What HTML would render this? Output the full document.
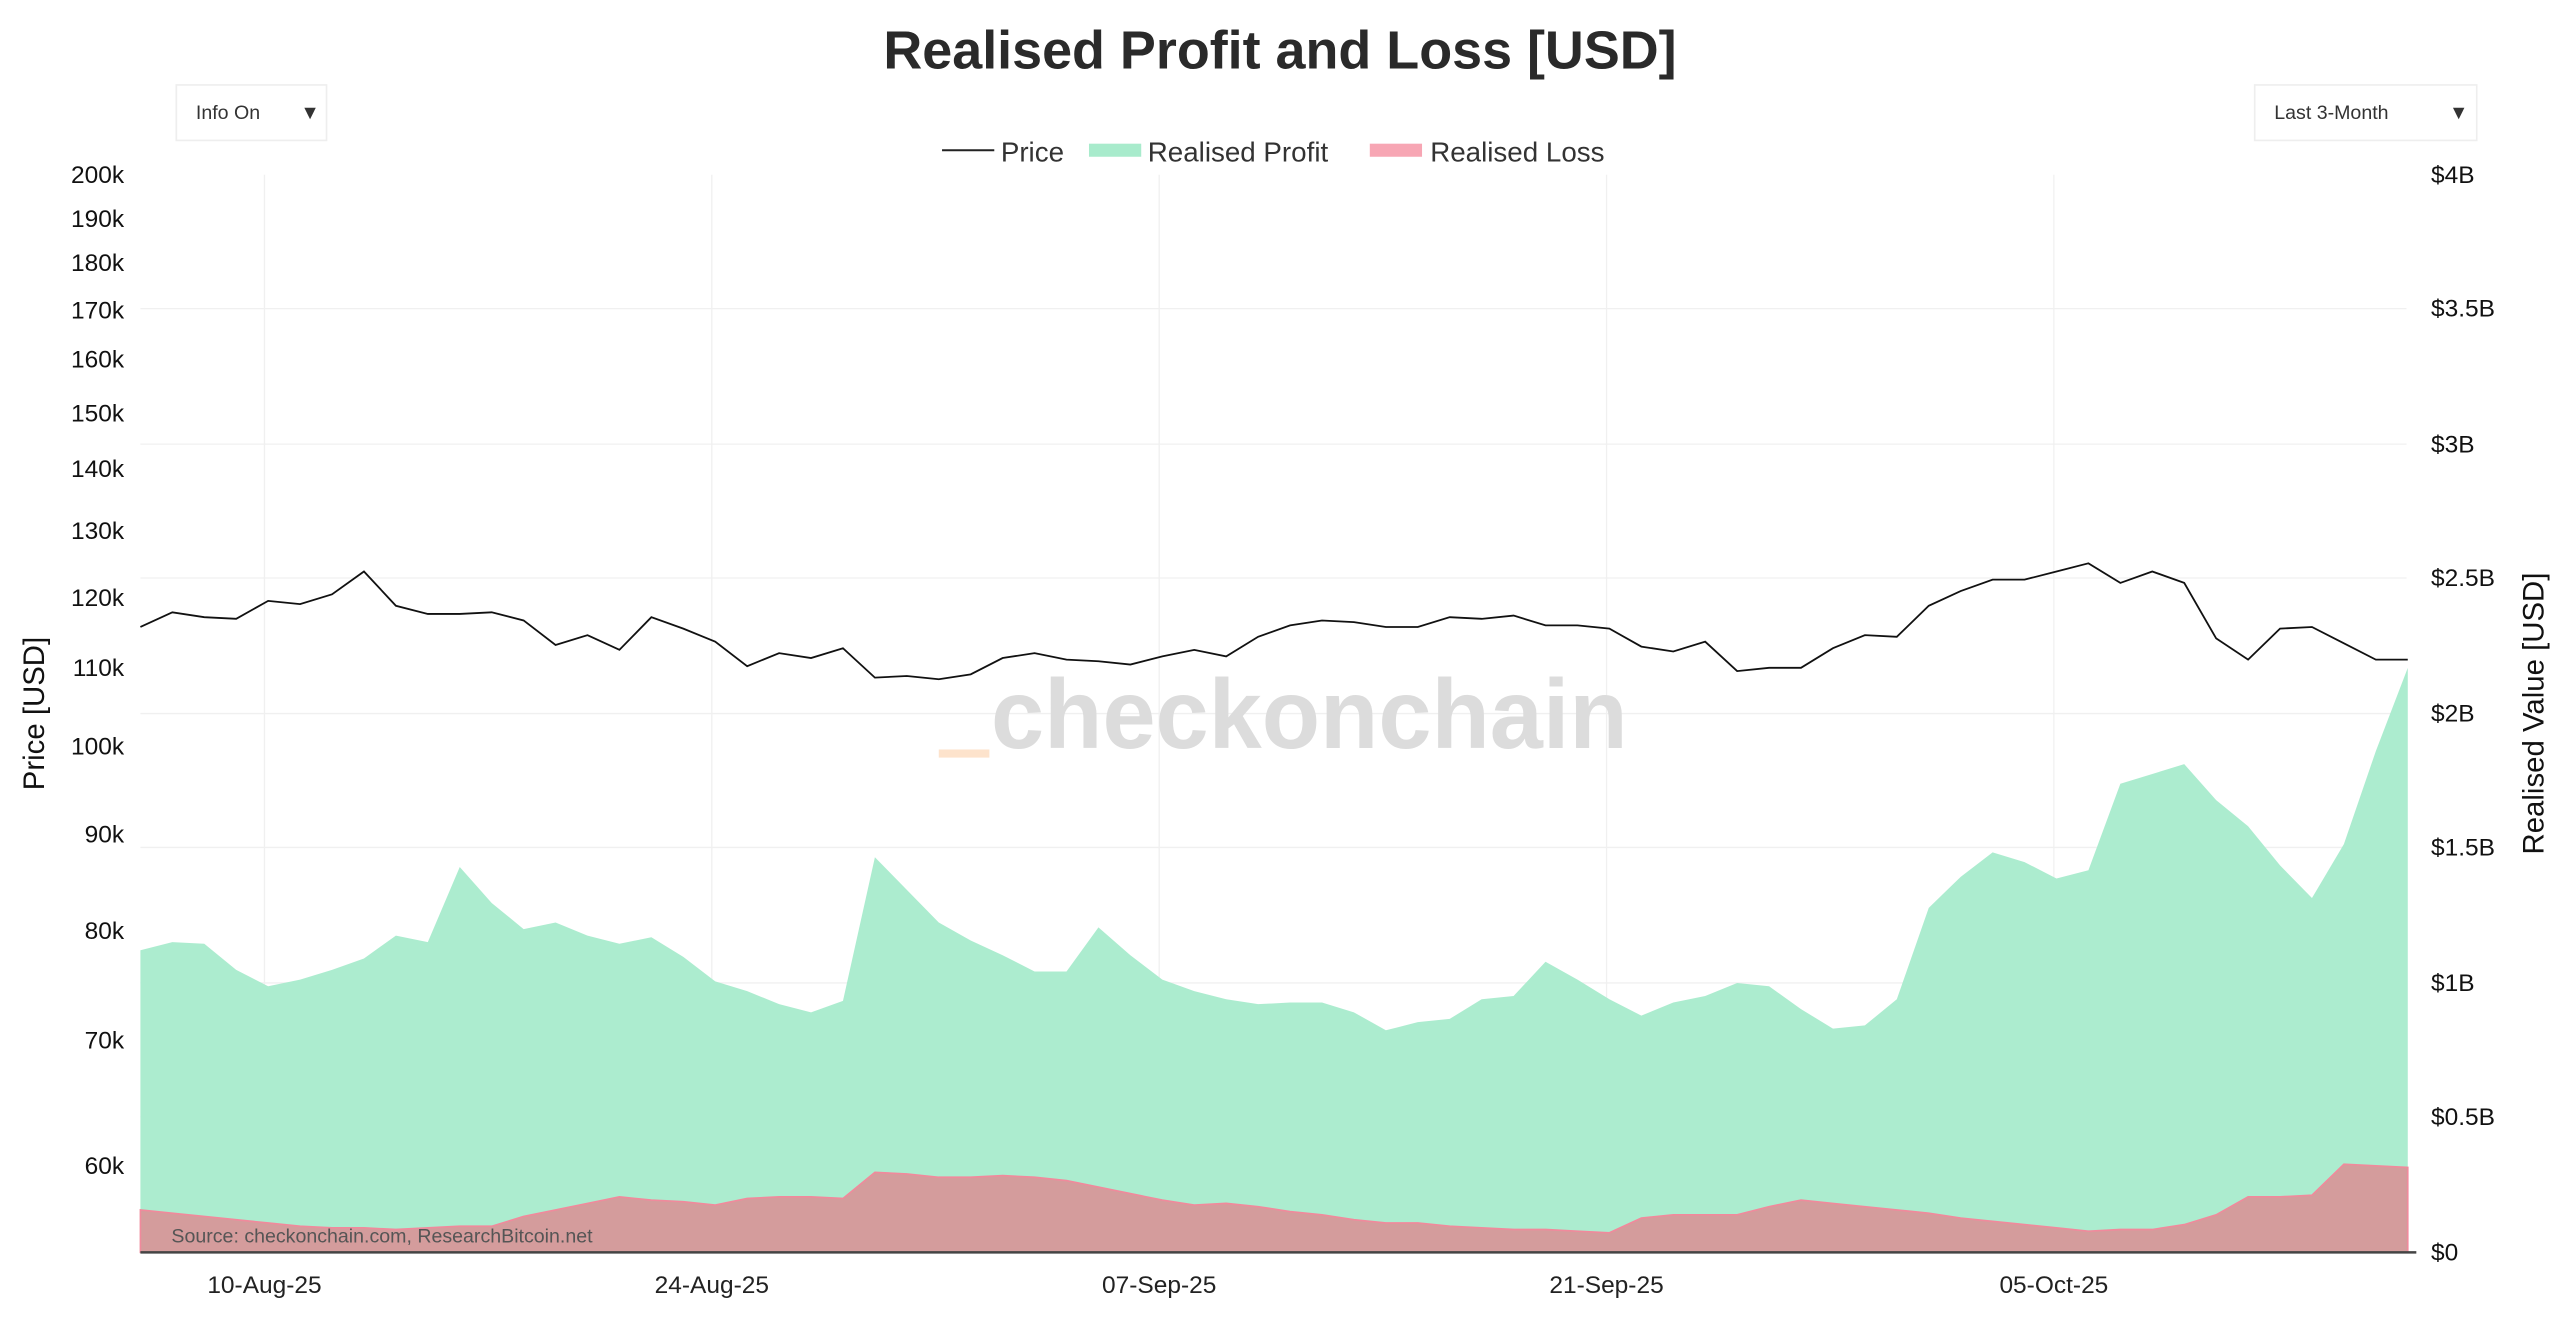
<!DOCTYPE html>
<html><head><meta charset="utf-8"><style>
html,body{margin:0;padding:0;background:#fff;}
svg{display:block;font-family:"Liberation Sans",sans-serif;}
</style></head><body>
<svg width="2560" height="1334" viewBox="0 0 1568 817" preserveAspectRatio="none">
<rect width="1568" height="817" fill="#fff"/>
<g stroke="#f0f0f0" stroke-width="0.8">
<line x1="86" x2="1474" y1="189" y2="189"/><line x1="86" x2="1474" y1="272" y2="272"/><line x1="86" x2="1474" y1="354" y2="354"/><line x1="86" x2="1474" y1="437" y2="437"/><line x1="86" x2="1474" y1="519" y2="519"/><line x1="86" x2="1474" y1="602" y2="602"/><line x1="86" x2="1474" y1="684" y2="684"/>
<line x1="162" x2="162" y1="107" y2="767"/><line x1="436" x2="436" y1="107" y2="767"/><line x1="710" x2="710" y1="107" y2="767"/><line x1="984" x2="984" y1="107" y2="767"/><line x1="1258" x2="1258" y1="107" y2="767"/>
</g>
<text x="607" y="458" font-size="60" font-weight="bold" fill="#dcdcdc" textLength="390" lengthAdjust="spacingAndGlyphs">checkonchain</text>
<rect x="575" y="459" width="31" height="5" fill="#fde3cc"/>
<polygon fill="#a8ebcc" fill-opacity="0.95" points="86,767 86,582 105.56,577 125.12,578 144.68,594 164.24,604 183.8,600 203.36,594 222.92,587 242.48,573 262.04,577 281.6,531 301.16,553 320.72,569 340.28,565 359.84,573 379.4,578 398.96,574 418.52,586 438.08,601 457.64,607 477.2,615 496.76,620 516.32,613 535.88,525 555.44,545 575,565 594.56,576 614.12,585 633.68,595 653.24,595 672.8,568 692.36,585 711.92,600 731.48,607 751.04,612 770.6,615 790.16,614 809.72,614 829.28,620 848.84,631 868.4,626 887.96,624 907.52,612 927.08,610 946.64,589 966.2,600 985.76,612 1005.32,622 1024.88,614 1044.44,610 1064,602 1083.56,604 1103.12,618 1122.68,630 1142.24,628 1161.8,612 1181.36,556 1200.92,537 1220.48,522 1240.04,528 1259.6,538 1279.16,533 1298.72,480 1318.28,474 1337.84,468 1357.4,490 1376.96,506 1396.52,530 1416.08,550 1435.64,517 1455.2,460 1474.76,409 1474.76,767"/>
<polygon fill="#d49c9c" stroke="#f08a9c" stroke-width="1" points="86,767 86,741 105.56,743 125.12,745 144.68,747 164.24,749 183.8,751 203.36,752 222.92,752 242.48,753 262.04,752 281.6,751 301.16,751 320.72,745 340.28,741 359.84,737 379.4,733 398.96,735 418.52,736 438.08,738 457.64,734 477.2,733 496.76,733 516.32,734 535.88,718 555.44,719 575,721 594.56,721 614.12,720 633.68,721 653.24,723 672.8,727 692.36,731 711.92,735 731.48,738 751.04,737 770.6,739 790.16,742 809.72,744 829.28,747 848.84,749 868.4,749 887.96,751 907.52,752 927.08,753 946.64,753 966.2,754 985.76,755 1005.32,746 1024.88,744 1044.44,744 1064,744 1083.56,739 1103.12,735 1122.68,737 1142.24,739 1161.8,741 1181.36,743 1200.92,746 1220.48,748 1240.04,750 1259.6,752 1279.16,754 1298.72,753 1318.28,753 1337.84,750 1357.4,744 1376.96,733 1396.52,733 1416.08,732 1435.64,713 1455.2,714 1474.76,715 1474.76,767"/>
<polyline fill="none" stroke="#111" stroke-width="1.1" points="86,384 105.56,375 125.12,378 144.68,379 164.24,368 183.8,370 203.36,364 222.92,350 242.48,371 262.04,376 281.6,376 301.16,375 320.72,380 340.28,395 359.84,389 379.4,398 398.96,378 418.52,385 438.08,393 457.64,408 477.2,400 496.76,403 516.32,397 535.88,415 555.44,414 575,416 594.56,413 614.12,403 633.68,400 653.24,404 672.8,405 692.36,407 711.92,402 731.48,398 751.04,402 770.6,390 790.16,383 809.72,380 829.28,381 848.84,384 868.4,384 887.96,378 907.52,379 927.08,377 946.64,383 966.2,383 985.76,385 1005.32,396 1024.88,399 1044.44,393 1064,411 1083.56,409 1103.12,409 1122.68,397 1142.24,389 1161.8,390 1181.36,371 1200.92,362 1220.48,355 1240.04,355 1259.6,350 1279.16,345 1298.72,357 1318.28,350 1337.84,357 1357.4,391 1376.96,404 1396.52,385 1416.08,384 1435.64,394 1455.2,404 1474.76,404"/>
<line x1="86" x2="1480" y1="767" y2="767" stroke="#444" stroke-width="1.5"/>
<text x="105" y="761" font-size="12" fill="#555">Source: checkonchain.com, ResearchBitcoin.net</text>
<text x="784" y="42" font-size="33" font-weight="bold" fill="#2a2a2a" text-anchor="middle">Realised Profit and Loss [USD]</text>
<rect x="108" y="52" width="92" height="34" fill="#fff" stroke="#eee"/>
<text x="120" y="73" font-size="12" fill="#333">Info On</text>
<text x="184" y="73" font-size="12" fill="#333">▼</text>
<rect x="1381" y="52" width="136" height="34" fill="#fff" stroke="#eee"/>
<text x="1393" y="73" font-size="12" fill="#333">Last 3-Month</text>
<text x="1500" y="73" font-size="12" fill="#333">▼</text>
<line x1="577" x2="609" y1="92" y2="92" stroke="#222" stroke-width="1.2"/>
<text x="613" y="99" font-size="17" fill="#333">Price</text>
<rect x="667" y="88" width="32" height="8" fill="#a8ebcc"/>
<text x="703" y="99" font-size="17" fill="#333">Realised Profit</text>
<rect x="839" y="88" width="32" height="8" fill="#f7a6b4"/>
<text x="876" y="99" font-size="17" fill="#333">Realised Loss</text>
<g font-size="15" fill="#111" text-anchor="end">
<text x="76" y="112">200k</text><text x="76" y="139">190k</text><text x="76" y="166">180k</text><text x="76" y="195">170k</text><text x="76" y="225">160k</text><text x="76" y="258">150k</text><text x="76" y="292">140k</text><text x="76" y="330">130k</text><text x="76" y="371">120k</text><text x="76" y="414">110k</text><text x="76" y="462">100k</text><text x="76" y="516">90k</text><text x="76" y="575">80k</text><text x="76" y="642">70k</text><text x="76" y="719">60k</text>
</g>
<g font-size="15" fill="#111">
<text x="1489" y="112">$4B</text><text x="1489" y="194">$3.5B</text><text x="1489" y="277">$3B</text><text x="1489" y="359">$2.5B</text><text x="1489" y="442">$2B</text><text x="1489" y="524">$1.5B</text><text x="1489" y="607">$1B</text><text x="1489" y="689">$0.5B</text><text x="1489" y="772">$0</text>
</g>
<g font-size="15" fill="#222" text-anchor="middle">
<text x="162" y="792">10-Aug-25</text><text x="436" y="792">24-Aug-25</text><text x="710" y="792">07-Sep-25</text><text x="984" y="792">21-Sep-25</text><text x="1258" y="792">05-Oct-25</text>
</g>
<text transform="translate(27,437) rotate(-90)" font-size="18" fill="#111" text-anchor="middle">Price [USD]</text>
<text transform="translate(1558,437) rotate(-90)" font-size="18" fill="#111" text-anchor="middle">Realised Value [USD]</text>
</svg>
</body></html>
